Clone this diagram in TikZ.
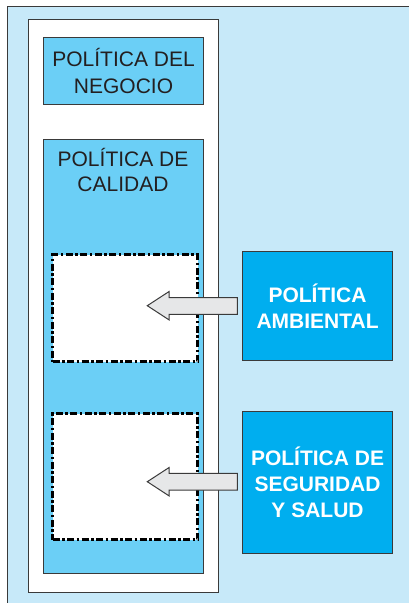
\documentclass[tikz,border=0pt]{standalone}
\usepackage{fontspec}
\setmainfont{Liberation Sans}
\definecolor{bgblue}{HTML}{C7E9F9}
\definecolor{midblue}{HTML}{6BCFF6}
\definecolor{strongblue}{HTML}{00AEEF}
\definecolor{edge}{HTML}{3A3A3A}
\definecolor{arrowfill}{HTML}{E6E7E8}
\definecolor{ink}{HTML}{231F20}
\begin{document}
\begin{tikzpicture}[x=1pt,y=-1pt,
  panel/.style={draw=edge,line width=1.1pt,inner sep=0pt,anchor=north west},
  policybox/.style={panel,fill=midblue,text=ink,align=center,font=\fontsize{21}{26.7}\selectfont},
  sidebox/.style={panel,fill=strongblue,text=white,align=center,font=\bfseries\fontsize{21}{26.2}\selectfont},
  slot/.style={draw=black,fill=white,line width=3pt,dash pattern=on 7pt off 2.5pt on 2.5pt off 2.5pt,inner sep=0pt,anchor=north west},
  blockarrow/.style={draw=edge,fill=arrowfill,line width=1pt,line join=miter}]
\useasboundingbox (0,0) rectangle (408,603);
% background
\node[panel,fill=bgblue,minimum width=406pt,minimum height=602pt] (bg) at (7,6) {};
\node[panel,fill=white,minimum width=190pt,minimum height=573pt] (white) at (28,19) {};
% business policy
\node[policybox,minimum width=160pt,minimum height=67pt] (negocio) at (43,37) {POLÍTICA DEL\\NEGOCIO};
% quality policy
\node[panel,fill=midblue,minimum width=160pt,minimum height=434pt] (calidad) at (43,139) {};
\node[text=ink,align=center,font=\fontsize{21}{25}\selectfont,inner sep=0pt] (calidadtext) at (123,170) {POLÍTICA DE\\CALIDAD};
% slots
\node[slot,minimum width=145pt,minimum height=107pt] (slotA) at (51,253) {};
\node[slot,minimum width=145pt,minimum height=126pt] (slotB) at (51,412) {};
% side policies
\node[sidebox,minimum width=150pt,minimum height=109pt] (amb) at (242,251) {POLÍTICA\\AMBIENTAL};
\node[sidebox,minimum width=150pt,minimum height=142pt] (seg) at (242,411) {POLÍTICA DE\\SEGURIDAD\\Y SALUD};
% arrows
\coordinate (tailA) at ([xshift=-4.7pt]amb.west);
\coordinate (tipA) at (147.3,305.7);
\draw[blockarrow] ([yshift=-8.35pt]tailA) -- ([yshift=-8.35pt]tailA -| 169,0) -- ([yshift=-14.15pt]tipA -| 169,0) -- (tipA)
  -- ([yshift=14.15pt]tipA -| 169,0) -- ([yshift=8.35pt]tailA -| 169,0) -- ([yshift=8.35pt]tailA) -- cycle;
\coordinate (tailB) at (237.3,481.7);
\coordinate (tipB) at (147.3,481.7);
\draw[blockarrow] ([yshift=-8.35pt]tailB) -- ([yshift=-8.35pt]tailB -| 169,0) -- ([yshift=-14.15pt]tipB -| 169,0) -- (tipB)
  -- ([yshift=14.15pt]tipB -| 169,0) -- ([yshift=8.35pt]tailB -| 169,0) -- ([yshift=8.35pt]tailB) -- cycle;
\end{tikzpicture}
\end{document}
